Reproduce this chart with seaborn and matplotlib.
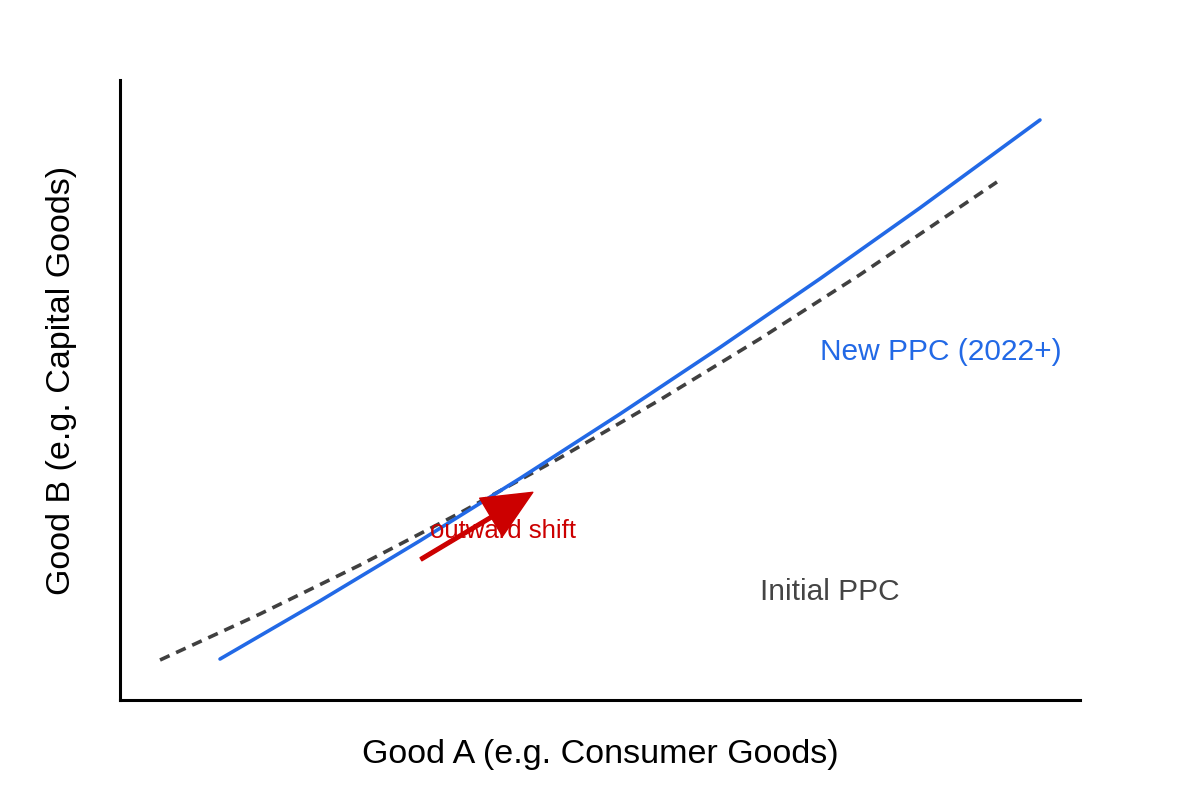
import matplotlib
matplotlib.use('Agg')
import matplotlib.pyplot as plt
import seaborn as sns
import pandas as pd

# Initial PPC (dashed) and New PPC (solid)
initial_x = [0.417, 1.458, 2.500, 3.542, 4.583, 5.625, 6.667, 7.708, 9.135]
initial_y = [0.645, 1.387, 2.177, 3.018, 3.906, 4.842, 5.827, 6.860, 8.355]
new_x = [1.042, 2.083, 3.125, 4.167, 5.208, 6.250, 7.292, 8.333, 9.583]
new_y = [0.661, 1.598, 2.569, 3.574, 4.613, 5.687, 6.795, 7.937, 9.355]

# arrow showing the shift
arrow_tail = (3.135, 2.27)
arrow_tip = (4.30, 3.35)

sns.set_style('white')
plt.rcParams['font.family'] = ['Liberation Sans', 'DejaVu Sans']

initial_df = pd.DataFrame({'x': initial_x, 'y': initial_y})
new_df = pd.DataFrame({'x': new_x, 'y': new_y})

fig = plt.figure(figsize=(12, 8), dpi=100)
ax = fig.add_axes([0.1, 0.125, 0.8, 0.775])

sns.lineplot(data=initial_df, x='x', y='y', ax=ax, color='#404040',
             linewidth=2.6, linestyle=(0, (2.9, 2.0)), sort=False)
sns.lineplot(data=new_df, x='x', y='y', ax=ax, color='#2269e6',
             linewidth=2.6, sort=False)

ax.annotate('', xy=arrow_tip, xytext=arrow_tail,
            arrowprops=dict(color='#cc0000', width=2.6, headwidth=32,
                            headlength=35, shrink=0))

ax.text(3.23, 2.73, 'outward shift', color='#cc0000', fontsize=18.5, va='center', ha='left')
ax.text(7.29, 5.62, 'New PPC (2022+)', color='#2269e6', fontsize=21.5, va='center', ha='left')
ax.text(6.67, 1.75, 'Initial PPC', color='#444444', fontsize=21.5, va='center', ha='left')

ax.set_xlim(0, 10)
ax.set_ylim(0, 10)
ax.set_xticks([])
ax.set_yticks([])
ax.set_xlabel('Good A (e.g. Consumer Goods)', fontsize=24.5, color='black', labelpad=28)
ax.set_ylabel('Good B (e.g. Capital Goods)', fontsize=24.5, color='black')
ax.yaxis.set_label_coords(-0.045, 0.516)
ax.spines['top'].set_visible(False)
ax.spines['right'].set_visible(False)
ax.spines['left'].set_linewidth(2.2)
ax.spines['bottom'].set_linewidth(2.2)
ax.spines['left'].set_color('black')
ax.spines['bottom'].set_color('black')

fig.savefig('out.png', dpi=100)
